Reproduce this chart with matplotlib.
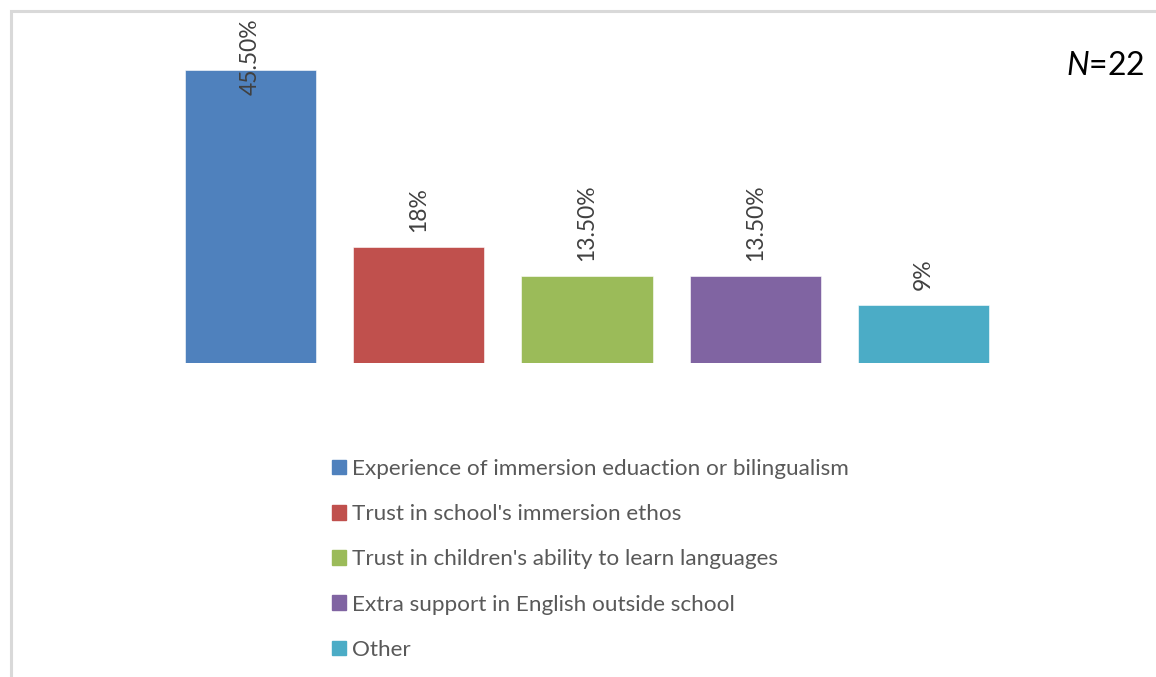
import matplotlib
matplotlib.use("Agg")
import matplotlib.pyplot as plt
import matplotlib.patches as mpatches

# ---- data ----
categories = [
    "Experience of immersion eduaction or bilingualism",
    "Trust in school's immersion ethos",
    "Trust in children's ability to learn languages",
    "Extra support in English outside school",
    "Other",
]
values = [45.5, 18, 13.5, 13.5, 9]
value_labels = ["45.50%", "18%", "13.50%", "13.50%", "9%"]
colors = ["#4F81BD", "#C0504D", "#9BBB59", "#8064A2", "#4BACC6"]
n_text = "$N$=22"

plt.rcParams['font.family'] = ['Lato', 'DejaVu Sans']
plt.rcParams['mathtext.fontset'] = 'custom'
plt.rcParams['mathtext.rm'] = 'Lato'
plt.rcParams['mathtext.it'] = 'Lato:italic'

W, H = 1156, 677
fig = plt.figure(figsize=(W / 100, H / 100), dpi=100)

# light grey chart frame (right/bottom edges fall outside the picture)
fig.patches.append(mpatches.Rectangle(
    (10.5 / W, -0.1), 1.2, 1 - 10.5 / H + 0.1,
    transform=fig.transFigure, fill=False,
    edgecolor='#d9d9d9', linewidth=2.2))

ax = fig.add_axes([166.5 / W, 1 - 363 / H, 841 / W, 345 / H])
x = list(range(len(values)))
bars = ax.bar(x, values, width=0.78, color=colors, edgecolor='white', linewidth=0.4)
ax.set_xlim(-0.5, len(values) - 0.5)
top = 45.5 * 345 / 293
ax.set_ylim(0, top)
ax.axis('off')

pad = 2.3
texts = []
for xi, v, lab in zip(x, values, value_labels):
    t = ax.text(xi, v + pad, lab, rotation=90, ha='center', va='bottom',
                fontsize=16.5, color='#404040')
    texts.append(t)

# labels that would run out of the chart are pushed down (as Excel does)
fig.canvas.draw()
r = fig.canvas.get_renderer()
ax_top_px = ax.get_window_extent(r).y1
for t, xi in zip(texts, x):
    bb = t.get_window_extent(r)
    if bb.y1 > ax_top_px:
        t.set_position((xi, top))
        t.set_va('top')

fig.text(1145 / W, 1 - 75 / H, n_text, ha='right', va='baseline',
         fontsize=23, color='black')

handles = [mpatches.Patch(color=c, label=l) for c, l in zip(colors, categories)]
fig.legend(handles=handles, loc='upper left',
           bbox_to_anchor=(332 / W, 1 - 459 / H),
           frameon=False, fontsize=16.2, labelcolor='#595959',
           handlelength=0.62, handleheight=0.62, handletextpad=0.28,
           labelspacing=1.12, borderpad=0, borderaxespad=0)

fig.savefig("out.png", dpi=100, facecolor='white')
